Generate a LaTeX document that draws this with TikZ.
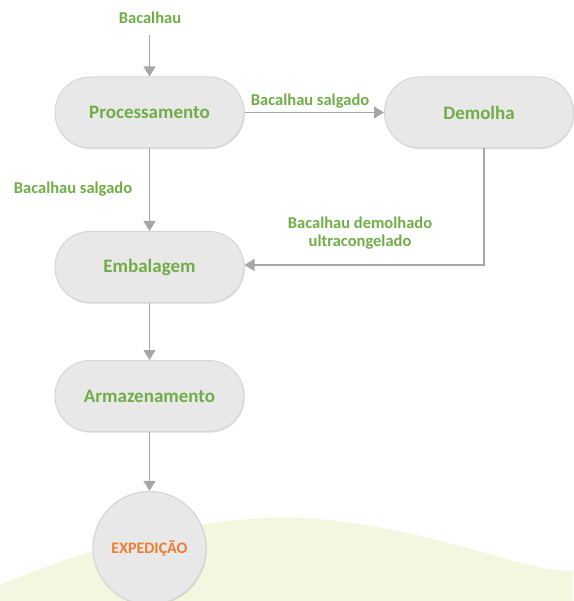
\documentclass[tikz,border=0pt]{standalone}
\usepackage{fontspec}
\setmainfont{Carlito}
\usetikzlibrary{arrows.meta,shadows}
\definecolor{lblgreen}{RGB}{112,173,71}
\definecolor{orangeT}{RGB}{237,125,49}
\definecolor{arrowgray}{RGB}{166,166,166}
\definecolor{boxfill}{RGB}{232,232,232}
\definecolor{boxline}{RGB}{214,214,214}
\definecolor{hill}{RGB}{242,248,224}
\tikzset{
  proc/.style={rounded corners=35pt, minimum width=189pt, minimum height=71pt,
    fill=boxfill, draw=boxline, line width=1pt, inner sep=0pt,
    font=\bfseries\fontsize{19}{21}\selectfont, text=lblgreen,
    drop shadow={shadow xshift=0.8pt, shadow yshift=-1.2pt, opacity=0.25}},
  endc/.style={circle, minimum size=113pt, fill=boxfill, draw=boxline, line width=1.2pt,
    font=\bfseries\fontsize{16}{18}\selectfont, text=orangeT, inner sep=0pt,
    drop shadow={shadow xshift=0.8pt, shadow yshift=-1.2pt, opacity=0.25}},
  lbl/.style={font=\bfseries\fontsize{16.5}{18}\selectfont, text=lblgreen, align=center, inner sep=1pt},
  conn/.style={draw=arrowgray, line width=1.1pt, -{Triangle[length=10pt,width=12pt]}},
}
\begin{document}
\begin{tikzpicture}[x=1pt,y=-1pt]
\useasboundingbox (0,0) rectangle (573,601);
\begin{scope}
\clip (0,0) rectangle (573,601);
\fill[hill] (0,585) .. controls (120,535) and (220,515) .. (300,518)
  .. controls (400,522) and (500,560) .. (548,569) -- (573,571) -- (573,601) -- (0,601) -- cycle;
\end{scope}
\node[lbl] (src) at (150,18) {Bacalhau};
\node[proc] (proc) at (149.5,112.5) {Processamento};
\node[proc] (dem) at (479,112.5) {Demolha};
\node[proc] (emb) at (149.5,267) {Embalagem};
\node[proc] (arm) at (149.5,396) {Armazenamento};
\node[endc] (exp) at (149.5,548) {EXPEDIÇÃO};
\coordinate (srcb) at (149.5,35);
\coordinate (corner) at (484,265);
\draw[conn] (srcb) -- (proc.north);
\draw[conn] (proc.east) -- node[lbl, above=3pt, pos=0.47] {Bacalhau salgado} (dem.west);
\draw[conn] (proc.south) -- (emb.north);
\node[lbl] at (73,189) {Bacalhau salgado};
\draw[conn] (dem.south -| corner) -- (corner) -- (emb.east |- corner);
\node[lbl] at (360,233) {Bacalhau demolhado\\ultracongelado};
\draw[conn] (emb.south) -- (arm.north);
\draw[conn] (arm.south) -- (exp.north);
\end{tikzpicture}
\end{document}
